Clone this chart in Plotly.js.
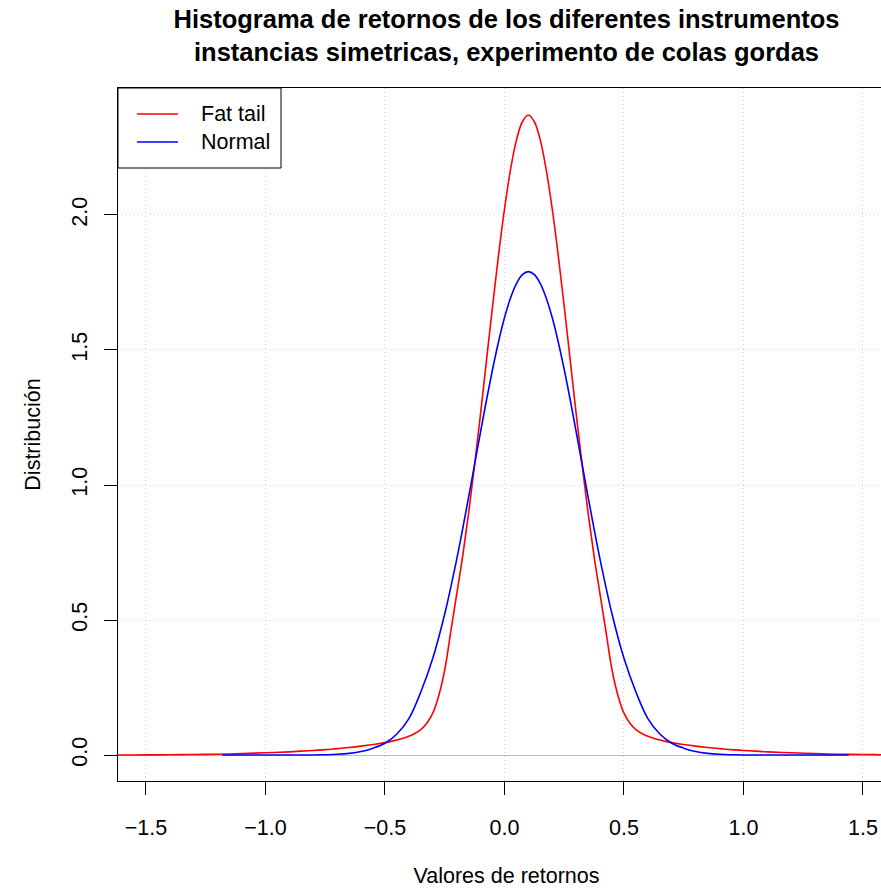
<!DOCTYPE html>
<html>
<head>
<meta charset="utf-8">
<script src="https://cdn.plot.ly/plotly-3.0.1.min.js"></script>
<style>
html, body { margin: 0; padding: 0; background: #ffffff; overflow: hidden; }
#chart { width: 920px; height: 890px; }
</style>
</head>
<body>
<div id="chart"></div>
<script>
// Fat tail density
const fatX = [-1.70,-1.60,-1.50,-1.40,-1.30,-1.20,-1.10,-1.00,-0.90,-0.85,-0.80,-0.75,-0.70,-0.65,-0.60,-0.55,-0.50,-0.45,-0.40,
  -0.375,-0.35,-0.325,-0.30,-0.275,-0.25,-0.225,-0.20,-0.175,-0.15,-0.125,-0.10,-0.075,-0.05,-0.025,0.00,0.025,0.05,0.075,0.10,
  0.125,0.15,0.175,0.20,0.225,0.25,0.275,0.30,0.325,0.35,0.375,0.40,0.425,0.45,0.475,0.50,0.525,0.55,0.575,0.60,
  0.65,0.70,0.75,0.80,0.85,0.90,0.95,1.00,1.05,1.10,1.20,1.30,1.40,1.50,1.60,1.70,1.80,1.90];
const fatY = [0.0001,0.0003,0.0006,0.0011,0.0020,0.0033,0.0055,0.0085,0.0120,0.0145,0.0170,0.0200,0.0240,0.0280,0.0330,0.0390,0.0460,0.0560,0.0700,
  0.0800,0.0940,0.1180,0.1550,0.2200,0.3150,0.4550,0.5950,0.7360,0.8960,1.0740,1.2640,1.4630,1.6610,1.8500,2.0210,2.1660,2.2770,2.3450,2.3700,
  2.3450,2.2770,2.1660,2.0210,1.8500,1.6610,1.4630,1.2640,1.0740,0.8960,0.7360,0.5950,0.4550,0.3150,0.2200,0.1550,0.1180,0.0940,0.0800,0.0700,
  0.0560,0.0460,0.0390,0.0330,0.0280,0.0240,0.0200,0.0170,0.0145,0.0120,0.0085,0.0055,0.0033,0.0020,0.0011,0.0006,0.0003,0.0001];

// Normal density
const normX = [-1.18,-1.10,-1.00,-0.90,-0.80,-0.75,-0.70,-0.65,-0.60,-0.55,-0.50,-0.45,-0.40,-0.35,-0.30,-0.25,-0.20,
  -0.175,-0.15,-0.125,-0.10,-0.075,-0.05,-0.025,0.00,0.025,0.05,0.075,0.10,
  0.125,0.15,0.175,0.20,0.225,0.25,0.275,0.30,0.325,0.35,0.375,0.40,
  0.45,0.50,0.55,0.60,0.65,0.70,0.75,0.80,0.85,0.90,0.95,1.00,
  1.10,1.20,1.30,1.44];
const normY = [0.0000,0.0000,0.0000,0.0001,0.0005,0.0013,0.0029,0.0063,0.0130,0.0256,0.0440,0.0780,0.1350,0.2336,0.3584,0.5223,0.7243,
  0.8370,0.9550,1.0761,1.1972,1.3157,1.4276,1.5297,1.6190,1.6916,1.7456,1.7788,1.7900,
  1.7788,1.7456,1.6916,1.6190,1.5297,1.4276,1.3157,1.1972,1.0761,0.9550,0.8370,0.7243,
  0.5223,0.3584,0.2336,0.1350,0.0780,0.0440,0.0256,0.0130,0.0063,0.0029,0.0013,0.0005,
  0.0001,0.0000,0.0000,0.0000];

const seriesNames = ["Fat tail", "Normal"];
const seriesColors = ["#ff0000", "#0000ff"];

const xTicks = [-1.5,-1.0,-0.5,0.0,0.5,1.0,1.5];
const xTickText = ["\u22121.5","\u22121.0","\u22120.5","0.0","0.5","1.0","1.5"];
const yTicks = [0.0,0.5,1.0,1.5,2.0];
const yTickText = ["0.0","0.5","1.0","1.5","2.0"];

const FONT = "Liberation Sans, Arial, Helvetica, sans-serif";
const FS = 21.5;

const traces = [
  {x: fatX, y: fatY, type: "scatter", mode: "lines", name: seriesNames[0],
   line: {color: seriesColors[0], width: 1.6, shape: "spline", smoothing: 1}},
  {x: normX, y: normY, type: "scatter", mode: "lines", name: seriesNames[1],
   line: {color: seriesColors[1], width: 1.6, shape: "spline", smoothing: 1}}
];

// plot area size in px (for legend box placement in paper units)
const PW = 777, PH = 693;
const legW = 163, legH = 80;
const rowY = [26, 54];
const shapes = [
  {type: "rect", xref: "paper", yref: "paper", x0: 0, x1: legW / PW, y0: 1 - legH / PH, y1: 1,
   line: {color: "#000000", width: 1}, fillcolor: "#ffffff", layer: "above"}
];
const annotations = [];
seriesNames.forEach((nm, i) => {
  shapes.push({type: "line", xref: "paper", yref: "paper",
    x0: 19 / PW, x1: 60 / PW, y0: 1 - rowY[i] / PH, y1: 1 - rowY[i] / PH,
    line: {color: seriesColors[i], width: 1.6}, layer: "above"});
  annotations.push({xref: "paper", yref: "paper", x: 81 / PW, y: 1 - rowY[i] / PH,
    xanchor: "left", yanchor: "middle", showarrow: false, text: nm,
    font: {family: FONT, size: FS, color: "#000000"}});
});

const layout = {
  width: 920, height: 890,
  margin: {l: 118, r: 25, t: 88, b: 109},
  paper_bgcolor: "#ffffff", plot_bgcolor: "#ffffff",
  font: {family: FONT, size: FS, color: "#000000"},
  title: {
    text: "<b>Histograma de retornos de los diferentes instrumentos<br>instancias simetricas, experimento de colas gordas</b>",
    font: {family: FONT, size: 25.5, color: "#000000"},
    x: 0.5, xref: "paper", xanchor: "center",
    y: 1 - 28/890, yref: "container", yanchor: "middle"
  },
  xaxis: {
    range: [-1.617, 1.634], autorange: false,
    tickvals: xTicks, ticktext: xTickText,
    ticks: "outside", ticklen: 13, tickwidth: 1, tickcolor: "#000000",
    ticklabelstandoff: 14,
    showline: true, linecolor: "#000000", linewidth: 1, mirror: true,
    showgrid: true, gridcolor: "#d3d3d3", griddash: "1px,3px", gridwidth: 1,
    zeroline: false,
    tickfont: {family: FONT, size: FS, color: "#000000"},
    title: {text: "Valores de retornos", font: {family: FONT, size: FS, color: "#000000"}, standoff: 29}
  },
  yaxis: {
    range: [-0.096, 2.470], autorange: false,
    tickvals: yTicks, ticktext: yTickText, tickangle: -90,
    ticks: "outside", ticklen: 13, tickwidth: 1, tickcolor: "#000000",
    ticklabelstandoff: 8,
    showline: true, linecolor: "#000000", linewidth: 1, mirror: true,
    showgrid: true, gridcolor: "#d3d3d3", griddash: "1px,3px", gridwidth: 1,
    zeroline: true, zerolinecolor: "#bebebe", zerolinewidth: 1,
    tickfont: {family: FONT, size: FS, color: "#000000"},
    title: {text: "Distribución", font: {family: FONT, size: FS, color: "#000000"}, standoff: 21}
  },
  showlegend: false,
  shapes: shapes,
  annotations: annotations
};

Plotly.newPlot("chart", traces, layout, {displayModeBar: false, staticPlot: true});
</script>
</body>
</html>
